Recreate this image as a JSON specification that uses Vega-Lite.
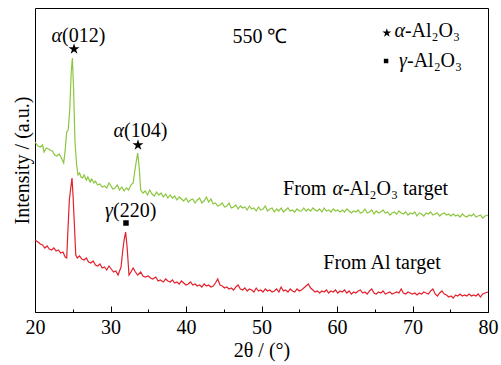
{
  "$schema": "https://vega.github.io/schema/vega-lite/v6.json",
  "width": 453,
  "height": 304,
  "autosize": "none",
  "padding": {"left": 35, "top": 8, "right": 13, "bottom": 53},
  "config": {
    "font": "Times New Roman",
    "view": {"stroke": "black", "strokeWidth": 1},
    "background": "white",
    "axis": {"labelFont": "Times New Roman", "titleFont": "Times New Roman"},
    "text": {"font": "Times New Roman", "fontSize": 20, "color": "black", "baseline": "alphabetic"}
  },
  "datasets": {
    "green": [
      {"t":20.0,"i":170},{"t":20.4,"i":166},{"t":20.7,"i":165},{"t":21.0,"i":167},{"t":21.2,"i":160},{"t":21.5,"i":164},{"t":21.8,"i":163},{"t":22.0,"i":162},{"t":22.3,"i":161},{"t":22.6,"i":157},{"t":22.9,"i":156},{"t":23.2,"i":158},{"t":23.5,"i":154},{"t":23.8,"i":149},{"t":24.0,"i":162},{"t":24.2,"i":180},{"t":24.4,"i":182},{"t":24.6,"i":202},{"t":24.8,"i":240},{"t":24.95,"i":254},{"t":25.1,"i":225},{"t":25.3,"i":170},{"t":25.5,"i":148},{"t":25.7,"i":137},{"t":25.9,"i":139},{"t":26.1,"i":135},{"t":26.3,"i":134},{"t":26.5,"i":137},{"t":26.8,"i":132},{"t":27.0,"i":135},{"t":27.3,"i":130},{"t":27.5,"i":133},{"t":27.8,"i":129},{"t":28.0,"i":131},{"t":28.3,"i":127},{"t":28.6,"i":128},{"t":28.9,"i":125},{"t":29.2,"i":126},{"t":29.5,"i":124},{"t":29.8,"i":129},{"t":30.0,"i":127},{"t":30.3,"i":123},{"t":30.6,"i":124},{"t":30.9,"i":127},{"t":31.2,"i":122},{"t":31.5,"i":125},{"t":31.8,"i":121},{"t":32.1,"i":124},{"t":32.4,"i":122},{"t":32.7,"i":127},{"t":33.0,"i":129},{"t":33.2,"i":140},{"t":33.4,"i":150},{"t":33.6,"i":159},{"t":33.8,"i":145},{"t":34.0,"i":122},{"t":34.3,"i":119},{"t":34.6,"i":121},{"t":34.9,"i":117},{"t":35.2,"i":122},{"t":35.5,"i":118},{"t":35.8,"i":116},{"t":36.1,"i":120},{"t":36.4,"i":117},{"t":36.7,"i":119},{"t":37.0,"i":115},{"t":37.3,"i":118},{"t":37.6,"i":114},{"t":37.9,"i":117},{"t":38.2,"i":114},{"t":38.5,"i":116},{"t":38.8,"i":112},{"t":39.1,"i":115},{"t":39.4,"i":113},{"t":39.7,"i":111},{"t":40.0,"i":114},{"t":40.3,"i":110},{"t":40.6,"i":112},{"t":40.9,"i":113},{"t":41.2,"i":109},{"t":41.5,"i":112},{"t":41.8,"i":114},{"t":42.1,"i":109},{"t":42.4,"i":111},{"t":42.7,"i":115},{"t":43.0,"i":110},{"t":43.3,"i":113},{"t":43.6,"i":108},{"t":43.9,"i":109},{"t":44.2,"i":106},{"t":44.5,"i":107},{"t":44.8,"i":109},{"t":45.1,"i":105},{"t":45.4,"i":106},{"t":45.7,"i":109},{"t":46.0,"i":104},{"t":46.3,"i":105},{"t":46.6,"i":107},{"t":46.9,"i":103},{"t":47.2,"i":106},{"t":47.5,"i":104},{"t":47.8,"i":105},{"t":48.1,"i":102},{"t":48.4,"i":106},{"t":48.7,"i":103},{"t":49.0,"i":104},{"t":49.3,"i":101},{"t":49.6,"i":105},{"t":49.9,"i":102},{"t":50.2,"i":103},{"t":50.5,"i":106},{"t":50.8,"i":101},{"t":51.1,"i":103},{"t":51.4,"i":104},{"t":51.7,"i":100},{"t":52.0,"i":103},{"t":52.3,"i":101},{"t":52.6,"i":104},{"t":52.9,"i":100},{"t":53.2,"i":102},{"t":53.5,"i":104},{"t":53.8,"i":101},{"t":54.1,"i":102},{"t":54.4,"i":100},{"t":54.7,"i":103},{"t":55.0,"i":101},{"t":55.3,"i":101},{"t":55.6,"i":104},{"t":55.9,"i":101},{"t":56.2,"i":103},{"t":56.5,"i":101},{"t":56.8,"i":104},{"t":57.1,"i":102},{"t":57.4,"i":101},{"t":57.7,"i":103},{"t":58.0,"i":100},{"t":58.3,"i":104},{"t":58.6,"i":101},{"t":58.9,"i":102},{"t":59.2,"i":100},{"t":59.5,"i":103},{"t":59.8,"i":101},{"t":60.1,"i":102},{"t":60.4,"i":100},{"t":60.7,"i":102},{"t":61.0,"i":100},{"t":61.3,"i":103},{"t":61.6,"i":101},{"t":61.9,"i":99},{"t":62.2,"i":101},{"t":62.5,"i":100},{"t":62.8,"i":102},{"t":63.1,"i":99},{"t":63.4,"i":100},{"t":63.7,"i":103},{"t":64.0,"i":99},{"t":64.3,"i":100},{"t":64.6,"i":102},{"t":64.9,"i":98},{"t":65.2,"i":101},{"t":65.5,"i":99},{"t":65.8,"i":100},{"t":66.1,"i":102},{"t":66.4,"i":99},{"t":66.7,"i":100},{"t":67.0,"i":97},{"t":67.3,"i":99},{"t":67.6,"i":100},{"t":67.9,"i":98},{"t":68.2,"i":101},{"t":68.5,"i":99},{"t":68.8,"i":98},{"t":69.1,"i":100},{"t":69.4,"i":97},{"t":69.7,"i":99},{"t":70.0,"i":98},{"t":70.3,"i":100},{"t":70.6,"i":96},{"t":70.9,"i":99},{"t":71.2,"i":98},{"t":71.5,"i":96},{"t":71.8,"i":99},{"t":72.1,"i":98},{"t":72.4,"i":100},{"t":72.7,"i":97},{"t":73.0,"i":98},{"t":73.3,"i":99},{"t":73.6,"i":96},{"t":73.9,"i":98},{"t":74.2,"i":99},{"t":74.5,"i":97},{"t":74.8,"i":98},{"t":75.1,"i":96},{"t":75.4,"i":98},{"t":75.7,"i":96},{"t":76.0,"i":97},{"t":76.3,"i":95},{"t":76.6,"i":98},{"t":76.9,"i":96},{"t":77.2,"i":95},{"t":77.5,"i":97},{"t":77.8,"i":96},{"t":78.1,"i":98},{"t":78.4,"i":95},{"t":78.7,"i":96},{"t":79.0,"i":97},{"t":79.3,"i":94},{"t":79.6,"i":96},{"t":80.0,"i":97}
    ],
    "red": [
      {"t":20.0,"i":72},{"t":20.4,"i":70},{"t":20.7,"i":68},{"t":21.0,"i":67},{"t":21.3,"i":64},{"t":21.6,"i":66},{"t":21.9,"i":63},{"t":22.2,"i":62},{"t":22.5,"i":64},{"t":22.8,"i":61},{"t":23.1,"i":62},{"t":23.4,"i":59},{"t":23.7,"i":60},{"t":24.0,"i":55},{"t":24.2,"i":54},{"t":24.35,"i":80},{"t":24.55,"i":112},{"t":24.75,"i":125},{"t":24.9,"i":134},{"t":25.05,"i":115},{"t":25.2,"i":90},{"t":25.4,"i":57},{"t":25.6,"i":54},{"t":25.9,"i":56},{"t":26.2,"i":53},{"t":26.5,"i":52},{"t":26.8,"i":54},{"t":27.1,"i":50},{"t":27.4,"i":49},{"t":27.7,"i":51},{"t":28.0,"i":47},{"t":28.3,"i":46},{"t":28.6,"i":48},{"t":28.9,"i":44},{"t":29.2,"i":45},{"t":29.5,"i":42},{"t":29.8,"i":46},{"t":30.1,"i":43},{"t":30.4,"i":40},{"t":30.7,"i":41},{"t":31.0,"i":37},{"t":31.2,"i":41},{"t":31.4,"i":45},{"t":31.6,"i":60},{"t":31.8,"i":72},{"t":32.0,"i":80},{"t":32.2,"i":65},{"t":32.45,"i":37},{"t":32.7,"i":40},{"t":33.0,"i":44},{"t":33.3,"i":40},{"t":33.6,"i":37},{"t":34.0,"i":40},{"t":34.3,"i":36},{"t":34.6,"i":35},{"t":35.0,"i":36},{"t":35.3,"i":34},{"t":35.6,"i":33},{"t":36.0,"i":35},{"t":36.3,"i":31},{"t":36.6,"i":32},{"t":37.0,"i":30},{"t":37.3,"i":33},{"t":37.6,"i":31},{"t":37.9,"i":30},{"t":38.2,"i":32},{"t":38.5,"i":29},{"t":38.8,"i":30},{"t":39.1,"i":28},{"t":39.4,"i":31},{"t":39.7,"i":29},{"t":40.0,"i":27},{"t":40.3,"i":28},{"t":40.6,"i":30},{"t":40.9,"i":27},{"t":41.2,"i":28},{"t":41.5,"i":26},{"t":41.8,"i":27},{"t":42.1,"i":25},{"t":42.4,"i":28},{"t":42.7,"i":26},{"t":43.0,"i":27},{"t":43.3,"i":25},{"t":43.6,"i":26},{"t":43.9,"i":29},{"t":44.2,"i":33},{"t":44.5,"i":27},{"t":44.8,"i":26},{"t":45.1,"i":24},{"t":45.4,"i":25},{"t":45.7,"i":23},{"t":46.0,"i":24},{"t":46.3,"i":22},{"t":46.6,"i":25},{"t":46.9,"i":27},{"t":47.2,"i":23},{"t":47.5,"i":22},{"t":47.8,"i":24},{"t":48.1,"i":21},{"t":48.4,"i":23},{"t":48.7,"i":22},{"t":49.0,"i":20},{"t":49.3,"i":24},{"t":49.6,"i":21},{"t":49.9,"i":22},{"t":50.2,"i":20},{"t":50.5,"i":23},{"t":50.8,"i":21},{"t":51.1,"i":22},{"t":51.4,"i":20},{"t":51.7,"i":21},{"t":52.0,"i":23},{"t":52.3,"i":20},{"t":52.6,"i":25},{"t":52.9,"i":21},{"t":53.2,"i":22},{"t":53.5,"i":20},{"t":53.8,"i":23},{"t":54.1,"i":21},{"t":54.4,"i":20},{"t":54.7,"i":23},{"t":55.0,"i":21},{"t":55.3,"i":22},{"t":55.6,"i":24},{"t":55.9,"i":26},{"t":56.2,"i":28},{"t":56.5,"i":24},{"t":56.8,"i":22},{"t":57.1,"i":20},{"t":57.4,"i":21},{"t":57.7,"i":19},{"t":58.0,"i":21},{"t":58.3,"i":20},{"t":58.6,"i":22},{"t":58.9,"i":19},{"t":59.2,"i":21},{"t":59.5,"i":20},{"t":59.8,"i":22},{"t":60.1,"i":19},{"t":60.4,"i":21},{"t":60.7,"i":20},{"t":61.0,"i":22},{"t":61.3,"i":19},{"t":61.6,"i":21},{"t":61.9,"i":18},{"t":62.2,"i":20},{"t":62.5,"i":19},{"t":62.8,"i":21},{"t":63.1,"i":22},{"t":63.4,"i":19},{"t":63.7,"i":20},{"t":64.0,"i":18},{"t":64.3,"i":21},{"t":64.6,"i":23},{"t":64.9,"i":19},{"t":65.2,"i":18},{"t":65.5,"i":20},{"t":65.8,"i":19},{"t":66.1,"i":21},{"t":66.4,"i":18},{"t":66.7,"i":19},{"t":67.0,"i":20},{"t":67.3,"i":18},{"t":67.6,"i":19},{"t":67.9,"i":20},{"t":68.2,"i":19},{"t":68.5,"i":23},{"t":68.8,"i":19},{"t":69.1,"i":18},{"t":69.4,"i":20},{"t":69.7,"i":19},{"t":70.0,"i":18},{"t":70.3,"i":19},{"t":70.6,"i":17},{"t":70.9,"i":19},{"t":71.2,"i":18},{"t":71.5,"i":20},{"t":71.8,"i":19},{"t":72.1,"i":18},{"t":72.4,"i":21},{"t":72.7,"i":23},{"t":73.0,"i":18},{"t":73.3,"i":16},{"t":73.6,"i":19},{"t":73.9,"i":21},{"t":74.2,"i":18},{"t":74.5,"i":17},{"t":74.8,"i":15},{"t":75.1,"i":16},{"t":75.4,"i":14},{"t":75.7,"i":17},{"t":76.0,"i":16},{"t":76.3,"i":18},{"t":76.6,"i":16},{"t":76.9,"i":17},{"t":77.2,"i":16},{"t":77.5,"i":18},{"t":77.8,"i":16},{"t":78.1,"i":17},{"t":78.4,"i":16},{"t":78.7,"i":18},{"t":79.0,"i":15},{"t":79.3,"i":18},{"t":79.6,"i":19},{"t":80.0,"i":20}
    ],
    "labels": [
      {"t":23.58,"i":270,"txt":"α","kind":"greek"},
      {"t":23.58,"i":270,"txt":"(012)","kind":"after"},
      {"t":31.79,"i":175,"txt":"α","kind":"greek"},
      {"t":31.79,"i":175,"txt":"(104)","kind":"after"},
      {"t":30.33,"i":95,"txt":"γ","kind":"greek"},
      {"t":30.33,"i":95,"txt":"(220)","kind":"after"},
      {"t":49.8,"i":269,"txt":"550 ℃","kind":"centre"},
      {"t":58.6,"i":117,"txt":"From","kind":"before"},
      {"t":60.79,"i":117,"txt":"α","kind":"greek"},
      {"t":60.79,"i":117,"txt":"-Al₂O₃ target","kind":"after"},
      {"t":65.96,"i":43,"txt":"From Al target","kind":"centre"},
      {"t":69.0,"i":275,"txt":"α","kind":"greek"},
      {"t":69.0,"i":275,"txt":"-Al₂O₃","kind":"after"},
      {"t":69.27,"i":245,"txt":"γ","kind":"greek"},
      {"t":69.27,"i":245,"txt":"-Al₂O₃","kind":"after"}
    ],
    "symbols": [
      {"t":25.17,"i":263,"phase":"alpha","role":"peak"},
      {"t":33.64,"i":167,"phase":"alpha","role":"peak"},
      {"t":32.05,"i":89,"phase":"gamma","role":"peak"},
      {"t":66.6,"i":279,"phase":"alpha","role":"legend"},
      {"t":66.5,"i":251,"phase":"gamma","role":"legend"}
    ]
  },
  "encoding": {
    "x": {"field": "t", "type": "quantitative",
      "scale": {"domain": [20, 80], "nice": false, "zero": false},
      "axis": {
        "title": "2θ / (°)",
        "values": [20,25,30,35,40,45,50,55,60,65,70,75,80],
        "labelExpr": "datum.value % 10 === 0 ? datum.label : ''",
        "tickSize": {"condition": {"test": "datum.value % 10 === 0", "value": -6}, "value": -3},
        "tickColor": "black", "domainColor": "black", "grid": false,
        "labelFontSize": 20, "titleFontSize": 20, "labelColor": "black", "titleColor": "black",
        "titleFontWeight": "normal", "labelPadding": 11, "titlePadding": 0, "labelFlush": false, "labelOverlap": false
      }},
    "y": {"field": "i", "type": "quantitative",
      "scale": {"domain": [0, 304], "nice": false, "zero": false},
      "axis": {
        "title": "Intensity / (a.u.)", "ticks": false, "labels": false, "domain": false, "grid": false,
        "titleFontSize": 20, "titleFontWeight": "normal", "titleColor": "black", "titlePadding": 3
      }}
  },
  "layer": [
    {"data": {"name": "green"}, "mark": {"type": "line", "color": "#8cc63f", "strokeWidth": 1.2}},
    {"data": {"name": "red"}, "mark": {"type": "line", "color": "#e3202b", "strokeWidth": 1.2}},
    {"data": {"name": "labels"}, "transform": [{"filter": "datum.kind === 'greek'"}],
      "mark": {"type": "text", "align": "right", "fontStyle": "italic"},
      "encoding": {"text": {"field": "txt"}}},
    {"data": {"name": "labels"}, "transform": [{"filter": "datum.kind === 'after'"}],
      "mark": {"type": "text", "align": "left"},
      "encoding": {"text": {"field": "txt"}}},
    {"data": {"name": "labels"}, "transform": [{"filter": "datum.kind === 'before'"}],
      "mark": {"type": "text", "align": "right"},
      "encoding": {"text": {"field": "txt"}}},
    {"data": {"name": "labels"}, "transform": [{"filter": "datum.kind === 'centre'"}],
      "mark": {"type": "text", "align": "center"},
      "encoding": {"text": {"field": "txt"}}},
    {"data": {"name": "symbols"}, "mark": {"type": "point", "filled": true, "color": "black", "opacity": 1},
      "encoding": {
        "shape": {"field": "phase", "type": "nominal", "legend": null,
          "scale": {"domain": ["alpha", "gamma"], "range": ["M0,-2.1L0.4715,-0.649L1.997,-0.649L0.763,0.248L1.234,1.699L0,0.802L-1.234,1.699L-0.763,0.248L-1.997,-0.649L-0.4715,-0.649Z", "square"]}},
        "size": {"field": "role", "type": "nominal", "legend": null,
          "scale": {"domain": ["peak", "legend"], "range": [30, 20]}}
      }}
  ]
}
